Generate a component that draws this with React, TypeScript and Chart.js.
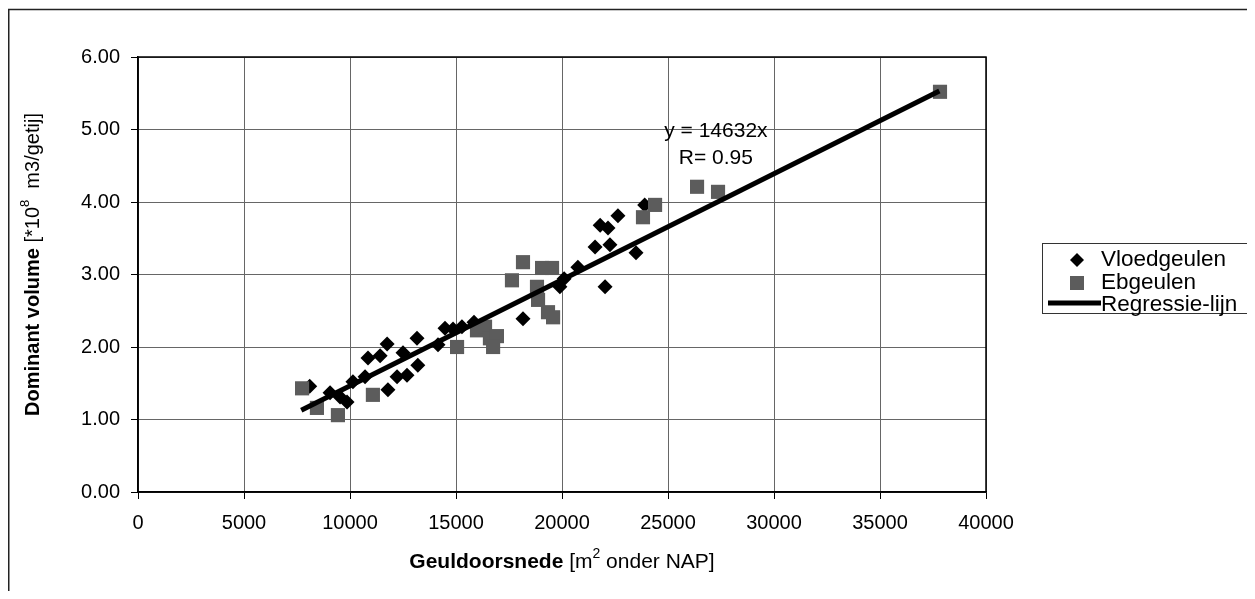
import React, { useEffect, useRef } from "react";
import { Chart, registerables } from "chart.js";

Chart.register(...registerables);

// Vloedgeulen (flood channels): cross-section [m2] and dominant volume [1e8 m3/tide]
const vloedX = [8100, 9060, 9530, 9860, 10140, 10710, 10850, 11420, 11750, 11790, 12220, 12690, 12500, 13160, 13200, 14150, 14480, 14860, 15280, 15850, 18160, 19900, 20100, 20750, 22030, 21560, 22260, 23490, 21800, 22170, 22640, 23900];
const vloedY = [1.46, 1.37, 1.31, 1.24, 1.52, 1.59, 1.85, 1.88, 2.04, 1.41, 1.59, 1.61, 1.92, 2.12, 1.75, 2.03, 2.26, 2.25, 2.28, 2.34, 2.39, 2.83, 2.94, 3.10, 2.83, 3.38, 3.41, 3.30, 3.68, 3.64, 3.81, 3.96];

// Ebgeulen (ebb channels)
const ebX = [7740, 8440, 9430, 11080, 15050, 15990, 16370, 16600, 16930, 16750, 17640, 18160, 19060, 19530, 18820, 18870, 19340, 19580, 23820, 24390, 26370, 27360, 37830];
const ebY = [1.43, 1.16, 1.06, 1.34, 2.00, 2.23, 2.28, 2.12, 2.15, 2.00, 2.92, 3.17, 3.09, 3.09, 2.83, 2.65, 2.48, 2.41, 3.79, 3.96, 4.21, 4.14, 5.52];

// Regression through the origin: V = 14632 * A  (V in m3, A in m2)
const slope = 14632;
const fitX = [7700, 37800];

const xTickValues = [0, 5000, 10000, 15000, 20000, 25000, 30000, 35000, 40000];
const yTickValues = [0, 1, 2, 3, 4, 5, 6];

const equationText = "y = 14632x";
const rText = "R= 0.95";
const legendLabels = ["Vloedgeulen", "Ebgeulen", "Regressie-lijn"];

const FONT = '"Liberation Sans", Arial, sans-serif';
const SQUARE_FILL = "#5c5c5c";

function drawDiamond(ctx: CanvasRenderingContext2D, x: number, y: number, r: number) {
  ctx.beginPath();
  ctx.moveTo(x, y - r);
  ctx.lineTo(x + r, y);
  ctx.lineTo(x, y + r);
  ctx.lineTo(x - r, y);
  ctx.closePath();
  ctx.fill();
}

const decorPlugin = {
  id: "decor",
  beforeDraw(chart: any) {
    const { ctx, width, height } = chart;
    ctx.save();
    ctx.fillStyle = "#fff";
    ctx.fillRect(0, 0, width, height);
    // outer frame (left and top edges)
    ctx.strokeStyle = "#222";
    ctx.lineWidth = 1.5;
    ctx.beginPath();
    ctx.moveTo(0.75, height);
    ctx.lineTo(0.75, 1.5);
    ctx.lineTo(width, 1.5);
    ctx.stroke();
    ctx.restore();
  },
  beforeDatasetsDraw(chart: any) {
    const { ctx, chartArea } = chart;
    ctx.save();
    ctx.strokeStyle = "#000";
    ctx.lineWidth = 1.5;
    ctx.strokeRect(chartArea.left, chartArea.top, chartArea.right - chartArea.left, chartArea.bottom - chartArea.top);
    ctx.restore();
  },
  afterDraw(chart: any) {
    const { ctx, chartArea, scales } = chart;
    const xs = scales.x;
    const ys = scales.y;
    ctx.save();
    ctx.fillStyle = "#000";
    ctx.textBaseline = "middle";

    // equation annotation
    ctx.font = `21px ${FONT}`;
    ctx.textAlign = "center";
    ctx.fillText(equationText, xs.getPixelForValue(27260), ys.getPixelForValue(4.97));
    ctx.fillText(rText, xs.getPixelForValue(27260), ys.getPixelForValue(4.61));

    const measure = (parts: any[]) =>
      parts.reduce((s, p) => {
        ctx.font = p.f;
        return s + ctx.measureText(p.t).width;
      }, 0);
    const drawParts = (parts: any[], startX: number) => {
      let cx = startX;
      ctx.textAlign = "left";
      for (const p of parts) {
        ctx.font = p.f;
        ctx.fillText(p.t, cx, p.dy);
        cx += ctx.measureText(p.t).width;
      }
    };

    // y axis title: bold part + normal part with superscript
    const yParts = [
      { t: "Dominant volume ", f: `bold 20px ${FONT}`, dy: 0 },
      { t: "[*10", f: `20px ${FONT}`, dy: 0 },
      { t: "8", f: `13px ${FONT}`, dy: -8 },
      { t: "  m3/getij]", f: `20px ${FONT}`, dy: 0 },
    ];
    const yw = measure(yParts);
    ctx.save();
    ctx.translate(25, (chartArea.top + chartArea.bottom) / 2 - 10);
    ctx.rotate(-Math.PI / 2);
    drawParts(yParts, -yw / 2);
    ctx.restore();

    // x axis title
    const xParts = [
      { t: "Geuldoorsnede ", f: `bold 21px ${FONT}`, dy: 0 },
      { t: "[m", f: `21px ${FONT}`, dy: 0 },
      { t: "2", f: `14px ${FONT}`, dy: -8 },
      { t: " onder NAP]", f: `21px ${FONT}`, dy: 0 },
    ];
    const xw = measure(xParts);
    ctx.save();
    ctx.translate((chartArea.left + chartArea.right) / 2, 554);
    drawParts(xParts, -xw / 2);
    ctx.restore();

    // legend
    const lx = 1034, ly = 235, lw = 206, lh = 70;
    ctx.fillStyle = "#fff";
    ctx.fillRect(lx, ly, lw, lh);
    ctx.strokeStyle = "#333";
    ctx.lineWidth = 1;
    ctx.strokeRect(lx + 0.5, ly + 0.5, lw, lh);
    const rows = [ly + 17, ly + 40, ly + 62];
    const textX = lx + 59;
    const markX = lx + 35;
    ctx.fillStyle = "#000";
    drawDiamond(ctx, markX, rows[0], 7);
    ctx.fillStyle = SQUARE_FILL;
    ctx.fillRect(markX - 7, rows[1] - 7, 14, 14);
    ctx.strokeStyle = "#000";
    ctx.lineWidth = 5;
    ctx.beginPath();
    ctx.moveTo(lx + 6, rows[2] - 2);
    ctx.lineTo(textX, rows[2] - 2);
    ctx.stroke();
    ctx.fillStyle = "#000";
    ctx.font = `22.5px ${FONT}`;
    ctx.textAlign = "left";
    legendLabels.forEach((lab, i) => ctx.fillText(lab, textX, rows[i]));
    ctx.restore();
  },
};

export default function App() {
  const canvasRef = useRef<HTMLCanvasElement | null>(null);

  useEffect(() => {
    const canvas = canvasRef.current;
    if (!canvas) return;
    const vloed = vloedX.map((x, i) => ({ x, y: vloedY[i] }));
    const eb = ebX.map((x, i) => ({ x, y: ebY[i] }));
    const fit = fitX.map((x) => ({ x, y: (slope * x) / 1e8 }));

    const chart = new Chart(canvas, {
      type: "scatter",
      data: {
        datasets: [
          {
            label: legendLabels[0],
            data: vloed,
            pointStyle: "rectRot",
            pointRadius: 7.5,
            backgroundColor: "#000",
            borderColor: "#000",
            borderWidth: 0,
            order: 3,
          },
          {
            label: legendLabels[1],
            data: eb,
            pointStyle: "rect",
            pointRadius: 10,
            backgroundColor: SQUARE_FILL,
            borderColor: SQUARE_FILL,
            borderWidth: 0,
            order: 2,
          },
          {
            type: "line",
            label: legendLabels[2],
            data: fit,
            showLine: true,
            pointRadius: 0,
            borderColor: "#000",
            borderWidth: 5,
            order: 1,
          } as any,
        ],
      },
      options: {
        animation: false,
        responsive: false,
        devicePixelRatio: 1,
        layout: { padding: { left: 0, top: 49, right: 269, bottom: 0 } },
        plugins: {
          legend: { display: false },
          tooltip: { enabled: false },
        },
        scales: {
          x: {
            type: "linear",
            min: 0,
            max: 40000,
            afterBuildTicks: (s: any) => {
              s.ticks = xTickValues.map((v) => ({ value: v }));
            },
            afterFit: (s: any) => {
              s.height = 99;
            },
            ticks: {
              color: "#000",
              font: { family: FONT, size: 20 },
              padding: 12,
              maxRotation: 0,
              callback: (v: any) => String(v),
            },
            grid: { color: "#666", lineWidth: 1, tickLength: 7, tickColor: "#000" },
            border: { color: "#000", width: 1.5 },
          },
          y: {
            type: "linear",
            min: 0,
            max: 6,
            afterBuildTicks: (s: any) => {
              s.ticks = yTickValues.map((v) => ({ value: v }));
            },
            afterFit: (s: any) => {
              s.width = 130;
            },
            ticks: {
              color: "#000",
              font: { family: FONT, size: 20 },
              padding: 11,
              callback: (v: any) => Number(v).toFixed(2),
            },
            grid: { color: "#666", lineWidth: 1, tickLength: 7, tickColor: "#000" },
            border: { color: "#000", width: 1.5 },
          },
        },
      },
      plugins: [decorPlugin],
    });
    return () => chart.destroy();
  }, []);

  return (
    <div style={{ width: 1247, height: 583 }}>
      <canvas ref={canvasRef} width={1247} height={583} style={{ display: "block" }} />
    </div>
  );
}
